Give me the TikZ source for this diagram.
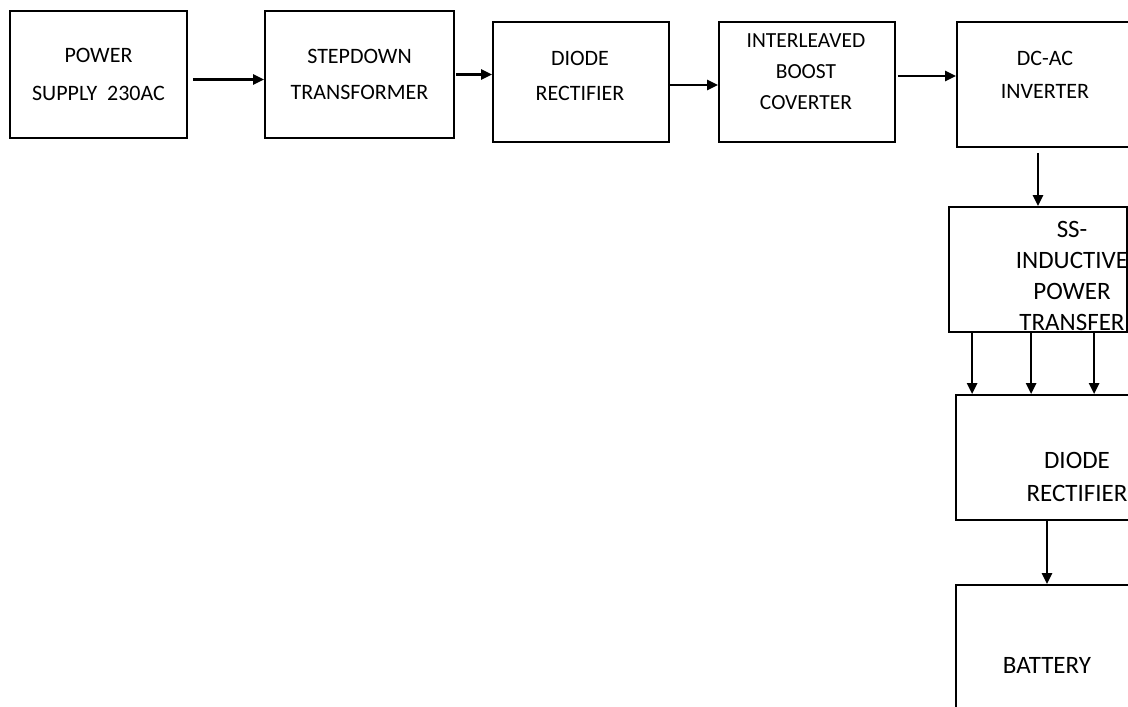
\documentclass[tikz,border=0pt]{standalone}
\usepackage{fontspec}
\setmainfont{Carlito}
\usetikzlibrary{arrows.meta}
\begin{document}
\begin{tikzpicture}[x=1pt,y=-1pt,
    blk/.style={draw,line width=1.8pt,inner sep=0pt},
    txt/.style={align=center,font=\fontsize{22}{35}\selectfont},
    bigtxt/.style={align=center,font=\fontsize{25}{33}\selectfont},
    arr/.style={line width=2.6pt,-{Triangle[length=11pt,width=10pt]}}]
    \useasboundingbox (0,0) rectangle (1128,707);
    \clip (0,0) rectangle (1128,707);
    % top row
    \node [blk,txt,minimum width=177pt,minimum height=127pt,font=\fontsize{22}{38}\selectfont] (ps) at (98.5,74.5) {POWER\\SUPPLY\ \ 230AC};
    \node [blk,txt,minimum width=189pt,minimum height=127pt,font=\fontsize{22}{36}\selectfont] (sd) at (359.5,74.5) {STEPDOWN\\TRANSFORMER};
    \node [blk,minimum width=176pt,minimum height=120pt] (dr) at (581,82) {};
    \node [txt] (drtxt) at (580,75.5) {DIODE\\RECTIFIER};
    \node [blk,minimum width=176pt,minimum height=120pt] (ib) at (807,82) {};
    \node [txt,font=\fontsize{21.5}{31}\selectfont] (ibtxt) at (806,72) {INTERLEAVED\\BOOST\\COVERTER};
    \node [blk,minimum width=190pt,minimum height=125pt] (inv) at (1052,84.5) {};
    \node [txt,font=\fontsize{22}{33}\selectfont] (invtxt) at (1045,74.5) {DC-AC\\INVERTER};
    % right column
    \node [blk,minimum width=178pt,minimum height=125pt] (ipt) at (1038,269.5) {};
    \node [bigtxt,font=\fontsize{25}{31}\selectfont] (ipttxt) at (1072,276) {SS-\\INDUCTIVE\\POWER\\TRANSFER};
    \node [blk,minimum width=194pt,minimum height=125pt] (rect) at (1053,457.5) {};
    \node [bigtxt] (recttxt) at (1077,476.5) {DIODE\\RECTIFIER};
    \node [blk,minimum width=194pt,minimum height=135pt] (bat) at (1053,652.5) {};
    \node [bigtxt] (battxt) at (1047,665) {BATTERY};
    % arrows
    \draw [arr] ([xshift=5pt,yshift=-5pt]ps.east) -- ([yshift=-5pt]sd.west);
    \draw [arr] ([xshift=1pt]sd.east) -- (sd.east -| dr.west);
    \draw [arr] ([yshift=-3pt]dr.east) -- ([yshift=-3pt]ib.west);
    \draw [arr] ([xshift=2pt,yshift=6pt]ib.east) -- ([yshift=6pt]inv.west |- ib.east);
    \draw [arr,shorten <=5pt] (ipt.north |- inv.south) -- (ipt.north);
    \draw [arr] ([xshift=24pt]ipt.south west) -- ([xshift=17pt]rect.north west);
    \draw [arr] ([xshift=83pt]ipt.south west) -- ([xshift=76pt]rect.north west);
    \draw [arr] ([xshift=146pt]ipt.south west) -- ([xshift=139pt]rect.north west);
    \draw [arr] ([xshift=-6pt]rect.south) -- ([xshift=-6pt]bat.north);
\end{tikzpicture}
\end{document}
